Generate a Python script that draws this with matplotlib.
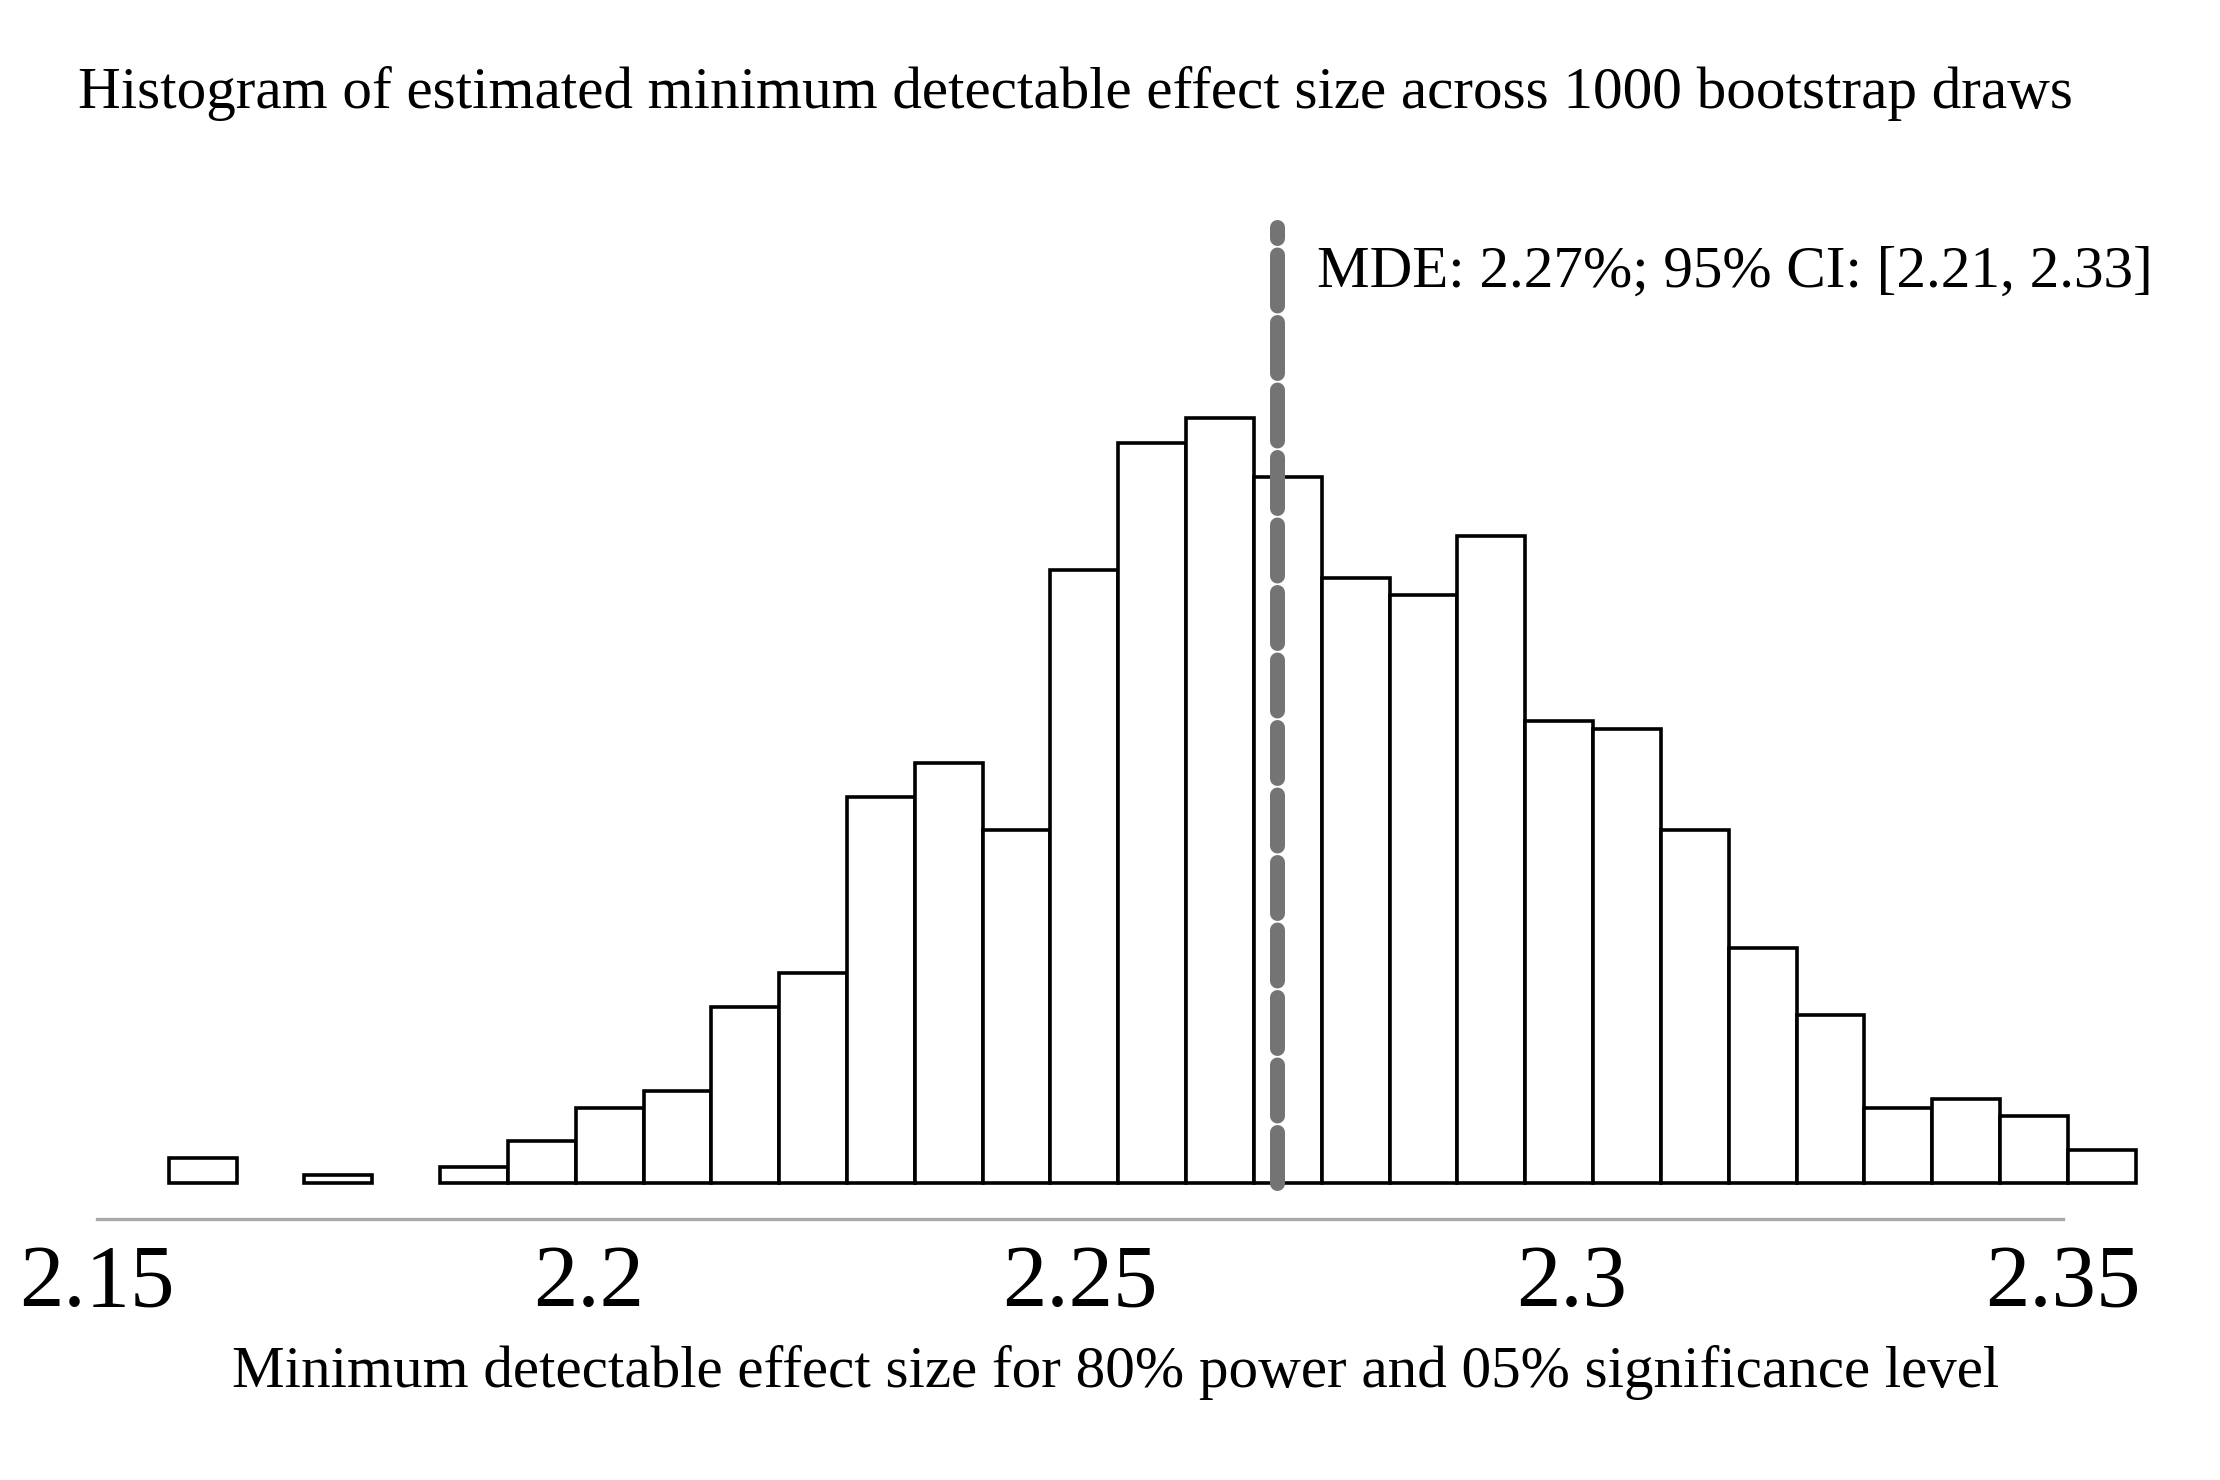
import matplotlib.pyplot as plt
import numpy as np

plt.rcParams['font.family'] = ['Liberation Serif', 'DejaVu Serif']

# histogram counts (29 bins, first bin starts at 2.1573)
bin_start = 2.1573
bin_width = 0.0069
counts = [3, 0, 1, 0, 2, 5, 9, 11, 21, 25, 46, 50, 42, 73, 88, 91,
          84, 72, 70, 77, 55, 54, 42, 28, 20, 9, 10, 8, 4]

tick_values = [2.15, 2.2, 2.25, 2.3, 2.35]
tick_labels = ["2.15", "2.2", "2.25", "2.3", "2.35"]

mde = 2.27
ci_low, ci_high = 2.21, 2.33

title = "Histogram of estimated minimum detectable effect size across 1000 bootstrap draws"
xlabel = "Minimum detectable effect size for 80% power and 05% significance level"

counts = np.array(counts)
lefts = bin_start + bin_width * np.arange(len(counts))
keep = counts > 0

fig = plt.figure(figsize=(11.1, 7.4), dpi=200)
ax = fig.add_axes([0.02155, 0.1764, 0.9520, 0.6703])

ax.bar(lefts[keep], counts[keep], width=bin_width, align='edge',
       facecolor='white', edgecolor='black', linewidth=1.3, zorder=2)

# MDE line
ytop = 113.74
ax.plot([mde, mde], [0, ytop], color='#747474', lw=5.4,
        linestyle=(0, (3.4, 1.1)), dash_capstyle='round',
        clip_on=False, zorder=3)
ax.text(mde + 0.0041, 106.6,
        f"MDE: {mde:.2f}%; 95% CI: [{ci_low:.2f}, {ci_high:.2f}]",
        fontsize=21.3, ha='left', va='baseline')

ax.set_xlim(2.145, 2.36)
ax.set_ylim(-4.22, ytop)

for s in ['left', 'top', 'right']:
    ax.spines[s].set_visible(False)
ax.spines['bottom'].set_bounds(2.15, 2.35)
ax.spines['bottom'].set_color('#aaaaaa')
ax.spines['bottom'].set_linewidth(1.2)

ax.set_yticks([])
ax.set_xticks(tick_values, tick_labels)
ax.tick_params(axis='x', length=0, pad=9, labelsize=32)

fig.text(0.035, 0.9273, title, fontsize=21.3, ha='left', va='baseline')
fig.text(0.5027, 0.0625, xlabel, fontsize=21.3, ha='center', va='baseline')

fig.savefig('out.png', dpi=200, facecolor='white')
